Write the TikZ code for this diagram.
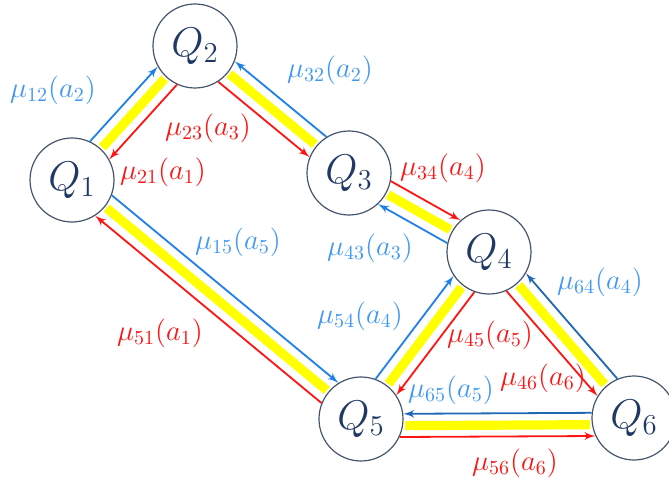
\documentclass[tikz,border=0pt]{standalone}
\usepackage{tikz}
\usetikzlibrary{arrows}

\definecolor{qtext}{RGB}{32,56,100}
\definecolor{qline}{RGB}{68,84,106}
\definecolor{linkblue}{RGB}{30,128,232}
\definecolor{deepblue}{RGB}{31,104,180}
\definecolor{labelblue}{RGB}{64,152,245}
\definecolor{linkred}{RGB}{255,20,20}
\definecolor{band}{RGB}{255,255,0}

\begin{document}
\begin{tikzpicture}[
    x=0.5pt, y=-0.5pt,
    queue/.style={circle, draw=qline, line width=0.6pt, minimum size=42pt, inner sep=0pt, text=qtext, font=\fontsize{21}{23}\selectfont},
    yband/.style={draw=band, line width=4.6pt, shorten <=1pt, shorten >=1pt},
    bline/.style={draw=linkblue, -latex', line width=0.9pt},
    dline/.style={draw=deepblue, -latex', line width=0.9pt},
    rline/.style={draw=linkred, -latex', line width=0.9pt},
    blab/.style={text=labelblue, font=\fontsize{14}{16}\selectfont},
    rlab/.style={text=linkred, font=\fontsize{14}{16}\selectfont}
]
\useasboundingbox (0,0) rectangle (669,481);

% queues
\node [queue] (Q1) at (72,180) {$Q_1$};
\node [queue] (Q2) at (195,46) {$Q_2$};
\node [queue] (Q3) at (349,173) {$Q_3$};
\node [queue] (Q4) at (489,252) {$Q_4$};
\node [queue] (Q5) at (361,419) {$Q_5$};
\node [queue] (Q6) at (634,418) {$Q_6$};

% highlighted links
\path [yband] (Q1.47.5) -- (Q2.227.5);
\path [yband] (Q2.-39.5) -- (Q3.140.5);
\path [yband] (Q3.-29.4) -- (Q4.150.6);
\path [yband] (Q1.-39.6) -- (Q5.140.4);
\path [yband] (Q5.52.5) -- (Q4.232.5);
\path [yband] (Q4.-48.9) -- (Q6.131.1);
\path [yband] (Q5.-9.4) -- (Q6.189.8);

% rates
\path [bline] (Q1.65.5) -- (Q2.209.5);
\path [rline] (Q2.245.5) -- (Q1.29.5);
\path [bline] (Q3.122.5) -- (Q2.-21.5);
\path [rline] (Q2.-57.5) -- (Q3.158.5);
\path [rline] (Q3.-11.4) -- (Q4.132.6);
\path [bline] (Q4.168.6) -- (Q3.-47.4);
\path [bline] (Q1.-21.6) -- (Q5.122.4);
\path [rline] (Q5.158.4) -- (Q1.-57.6);
\path [bline] (Q5.70.5) -- (Q4.214.5);
\path [rline] (Q4.250.5) -- (Q5.34.5);
\path [dline] (Q6.113.1) -- (Q4.-30.9);
\path [rline] (Q4.-66.9) -- (Q6.149.1);
\path [dline] (Q6.173.4) -- (Q5.7);
\path [rline] (Q5.-25.2) -- (Q6.205.6);

% labels
\node [blab] (l12) at (53,90) {$\mu_{12}(a_2)$};
\node [rlab] (l23) at (208,128) {$\mu_{23}(a_3)$};
\node [rlab] (l21) at (163,172) {$\mu_{21}(a_1)$};
\node [blab] (l32) at (330,70) {$\mu_{32}(a_2)$};
\node [rlab] (l34) at (443,168) {$\mu_{34}(a_4)$};
\node [blab] (l43) at (370,248) {$\mu_{43}(a_3)$};
\node [blab] (l15) at (238,242) {$\mu_{15}(a_5)$};
\node [rlab] (l51) at (160,333) {$\mu_{51}(a_1)$};
\node [blab] (l54) at (360,316) {$\mu_{54}(a_4)$};
\node [rlab] (l45) at (490,335) {$\mu_{45}(a_5)$};
\node [blab] (l64) at (600,282) {$\mu_{64}(a_4)$};
\node [rlab] (l46) at (543,378) {$\mu_{46}(a_6)$};
\node [blab] (l65) at (451,390) {$\mu_{65}(a_5)$};
\node [rlab] (l56) at (515,463) {$\mu_{56}(a_6)$};
\end{tikzpicture}
\end{document}
